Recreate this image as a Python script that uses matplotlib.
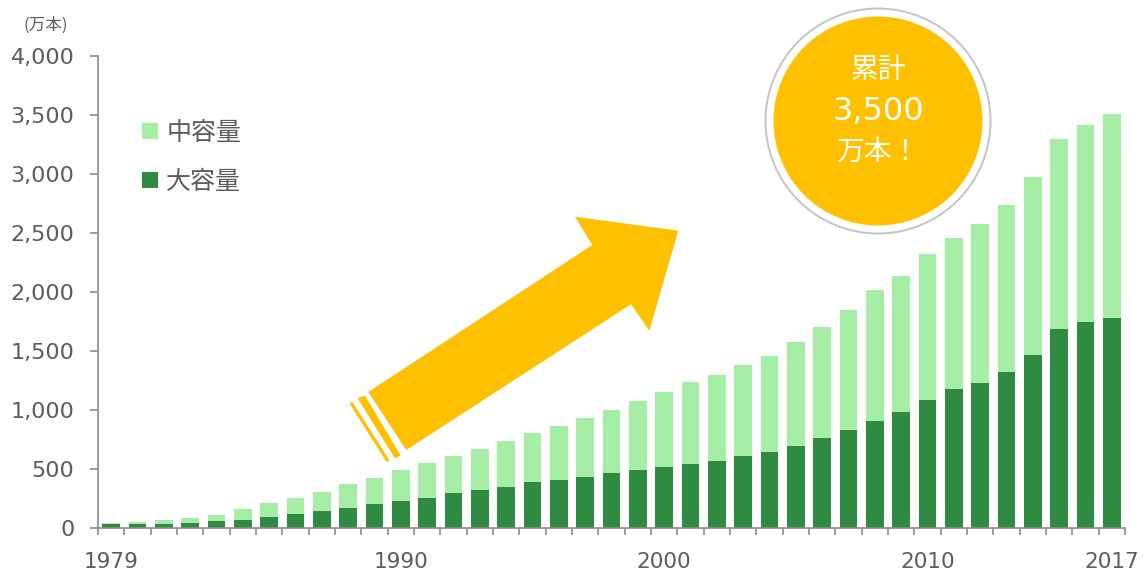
import matplotlib
matplotlib.use("Agg")
import matplotlib.pyplot as plt
from matplotlib.patches import Polygon, Circle, Patch
import numpy as np

plt.rcParams['font.family'] = ['DejaVu Sans', 'Noto Sans CJK JP']

years = [1979, 1980, 1981, 1982, 1983, 1984, 1985, 1986, 1987, 1988,
         1989, 1990, 1991, 1992, 1993, 1994, 1995, 1996, 1997, 1998,
         1999, 2000, 2001, 2002, 2003, 2004, 2005, 2006, 2007, 2008,
         2009, 2010, 2011, 2012, 2013, 2014, 2015, 2016, 2017]
large = [30, 30, 30, 42, 56, 68, 96, 121, 147, 172,
         200, 226, 254, 294, 320, 345, 387, 409, 435, 463,
         489, 514, 542, 568, 607, 647, 698, 763, 828, 904,
         983, 1087, 1180, 1231, 1324, 1466, 1689, 1743, 1782]
medium = [15, 24, 38, 40, 51, 93, 116, 130, 158, 198,
          224, 263, 299, 313, 352, 392, 415, 458, 499, 536,
          589, 641, 692, 731, 771, 808, 875, 937, 1019, 1112,
          1149, 1232, 1280, 1345, 1413, 1505, 1607, 1675, 1726]
series_names = ['中容量', '大容量']
labeled_years = [1979, 1990, 2000, 2010, 2017]
y_ticks = [0, 500, 1000, 1500, 2000, 2500, 3000, 3500, 4000]
unit_label = '(万本)'
badge_lines = ['累計', '3,500', '万本！']

W, H = 1143, 572
fig = plt.figure(figsize=(W / 100, H / 100), dpi=100)
ax = fig.add_axes([98 / W, 1 - 528 / H, (1125 - 98) / W, (528 - 56) / H])

C_DARK = '#2F8A42'
C_LIGHT = '#A6EEA6'
C_AXIS = '#8c8c8c'
C_TEXT = '#5c5c5c'
C_GOLD = '#FFC000'

x = np.arange(len(years))
bw = 0.66
ax.bar(x, large, width=bw, color=C_DARK, linewidth=0, zorder=2)
ax.bar(x, medium, width=bw, bottom=large, color=C_LIGHT, linewidth=0, zorder=2)

ax.set_xlim(-0.5, len(years) - 0.5)
ax.set_ylim(0, 4000)

for s in ['top', 'right']:
    ax.spines[s].set_visible(False)
for s in ['left', 'bottom']:
    ax.spines[s].set_color(C_AXIS)
    ax.spines[s].set_linewidth(1.2)

ax.set_yticks(y_ticks)
ax.set_yticklabels([f'{v:,}' for v in y_ticks])
ax.tick_params(axis='y', direction='out', length=6, width=1.2, color=C_AXIS,
               labelsize=16, labelcolor=C_TEXT, pad=11)

ax.set_xticks([years.index(y) for y in labeled_years])
ax.set_xticklabels([str(y) for y in labeled_years])
ax.set_xticks(np.arange(-0.5, len(years), 1.0), minor=True)
ax.tick_params(axis='x', which='major', length=0, labelsize=15.5,
               labelcolor=C_TEXT, pad=17)
ax.tick_params(axis='x', which='minor', direction='out', length=5,
               width=1.2, color=C_AXIS)

fig.text(46 / W, 1 - 25 / H, unit_label, ha='center', va='center',
         fontsize=12, color=C_TEXT, family=['Noto Sans CJK JP', 'DejaVu Sans'])

handles = [Patch(facecolor=C_LIGHT, edgecolor='none'),
           Patch(facecolor=C_DARK, edgecolor='none')]
leg = ax.legend(handles, series_names, loc='upper left',
                bbox_to_anchor=(142 / W, 1 - 120 / H),
                bbox_transform=fig.transFigure, frameon=False,
                handlelength=0.62, handleheight=0.62, handletextpad=0.35,
                labelspacing=0.92, borderpad=0, borderaxespad=0,
                prop={'family': ['Noto Sans CJK JP'], 'size': 18})
for t in leg.get_texts():
    t.set_color(C_TEXT)

# overlay in pixel coordinates for decorations
ov = fig.add_axes([0, 0, 1, 1], zorder=5)
ov.set_xlim(0, W)
ov.set_ylim(H, 0)
ov.axis('off')
ov.patch.set_alpha(0)

arrow = [(368.3, 392.0), (592.3, 245.0), (575.0, 216.7), (678.3, 230.7),
         (649.3, 330.7), (631.0, 304.3), (406.3, 450.0)]
ov.add_patch(Polygon(arrow, closed=True, facecolor=C_GOLD, edgecolor='none'))
stripe1 = [(357.7, 398.3), (365.0, 395.7), (400.7, 455.5), (395.0, 458.3)]
stripe2 = [(349.5, 403.5), (352.5, 402.0), (389.5, 460.5), (386.7, 462.0)]
ov.add_patch(Polygon(stripe1, closed=True, facecolor=C_GOLD, edgecolor='none'))
ov.add_patch(Polygon(stripe2, closed=True, facecolor=C_GOLD, edgecolor='none'))

cx, cy = 878, 121
ov.add_patch(Circle((cx, cy), 112.5, facecolor='white', edgecolor='#c4c4c4',
                    linewidth=1.4))
ov.add_patch(Circle((cx, cy), 104.5, facecolor=C_GOLD, edgecolor='none'))
badge_sizes = [20, 23, 20]
badge_y = [70, 111, 152]
for line, yy, fs in zip(badge_lines, badge_y, badge_sizes):
    ov.text(cx, yy, line, ha='center', va='center', color='white',
            fontsize=fs, family=['DejaVu Sans', 'Noto Sans CJK JP'])

fig.savefig('out.png', dpi=100)
